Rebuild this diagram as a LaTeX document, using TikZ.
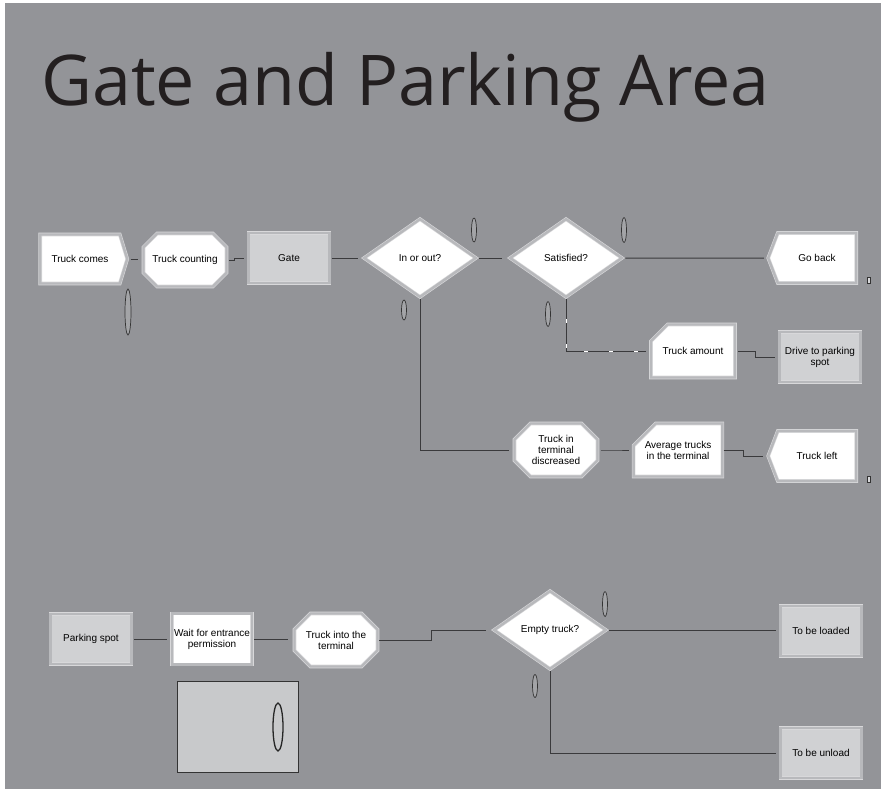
\documentclass[tikz,border=0pt]{standalone}
\usepackage{fontspec}
\setmainfont{Liberation Sans}
\newfontfamily\titlefont{Open Sans}
\usetikzlibrary{shapes.geometric, shapes.misc, shapes.symbols}
\definecolor{bggray}{RGB}{147,148,152}
\definecolor{bevelhi}{RGB}{216,216,218}
\definecolor{bevelband}{RGB}{184,185,188}
\definecolor{modgray}{RGB}{208,209,211}
\definecolor{panelgray}{RGB}{200,201,203}
\definecolor{linedark}{RGB}{58,58,60}
\definecolor{titleink}{RGB}{35,31,32}
\tikzset{
  module/.style={draw=bevelhi, double=bevelband, double distance=2.4pt, line width=0.6pt,
    fill=white, inner sep=1pt, align=center, font=\fontsize{10}{11}\selectfont},
  arrive/.style={module, signal, signal to=east, signal from=nowhere, signal pointer angle=146,
    minimum width=87pt, minimum height=49pt},
  depart/.style={module, signal, signal to=west, signal from=nowhere, signal pointer angle=138,
    minimum width=88pt, minimum height=50pt},
  octa/.style={module, chamfered rectangle, chamfered rectangle xsep=8pt, chamfered rectangle ysep=8pt,
    minimum width=83pt, minimum height=53pt},
  record/.style={module, chamfered rectangle, chamfered rectangle corners=north west,
    chamfered rectangle xsep=12pt, chamfered rectangle ysep=12pt, minimum width=84pt, minimum height=53pt},
  procbox/.style={module, rectangle, fill=modgray, minimum width=81pt, minimum height=50pt},
  holdbox/.style={module, rectangle, minimum width=80pt, minimum height=51pt},
  decide/.style={module, diamond, inner sep=0pt, minimum width=112pt, minimum height=78pt},
  conn/.style={draw=linedark, line width=1pt},
  hilite/.style={draw=white, line width=1pt, dash pattern=on 4pt off 21pt, dash phase=5pt},
  counter/.style={draw=black!80, fill=bggray!85!white, line width=0.7pt},
}
\begin{document}
\begin{tikzpicture}[x=1pt, y=-1pt]
  \useasboundingbox (0,0) rectangle (881,789);
  \fill[white] (0,0) rectangle (881,789);
  \fill[bggray] (5,3) rectangle (881,789);

  \node[anchor=base west, inner sep=0pt, text=titleink, font=\titlefont\fontsize{70}{76}\selectfont]
    (title) at (41,106) {Gate and Parking Area};

  % upper flow
  \node[arrive] (comes) at (80,259) {Truck comes};
  \node[octa] (counting) at (185,260) {Truck counting};
  \node[procbox] (gate) at (289,258) {Gate};
  \node[decide] (inout) at (420,258) {In or out?};
  \node[decide] (satisf) at (566,258) {Satisfied?};
  \node[depart] (goback) at (817,258) {Go back};
  \node[record] (amount) at (693,351) {Truck amount};
  \node[procbox] (drive) at (820,357) {Drive to parking\\spot};
  \node[octa] (decrease) at (556,450) {Truck in\\terminal\\discreased};
  \node[record] (average) at (678,450) {Average trucks\\in the terminal};
  \node[depart] (trkleft) at (817,456) {Truck left};

  % lower flow
  \node[procbox] (parking) at (91,639) {Parking spot};
  \node[holdbox] (wait) at (212,639) {Wait for entrance\\permission};
  \node[octa] (into) at (336,640) {Truck into the\\terminal};
  \node[decide] (empty) at (550,630) {Empty truck?};
  \node[procbox] (loaded) at (821,631) {To be loaded};
  \node[procbox] (unload) at (821,753) {To be unload};

  \draw[conn] ([xshift=3pt]comes.east) -- ([xshift=10pt]comes.east);
  \draw[conn] ([xshift=2pt]counting.east) -- ++(6,0) |- ([xshift=-4pt]gate.west);
  \draw[conn, shorten <=2pt, shorten >=6pt] (gate) -- (inout);
  \draw[conn, shorten <=3pt, shorten >=8pt] (inout) -- (satisf);
  \draw[conn, shorten <=3pt, shorten >=4pt] (satisf) -- (goback);
  \draw[conn] ([yshift=-2pt]satisf.south) |- ([xshift=-5pt]amount.west);
  \draw[hilite] ([yshift=-2pt]satisf.south) |- ([xshift=-5pt]amount.west);
  \draw[conn] ([xshift=3pt]amount.east) -- ++(17,0) |- ([xshift=-4pt]drive.west);
  \draw[conn] ([yshift=-2pt]inout.south) |- ([xshift=-5pt]decrease.west);
  \draw[conn] ([xshift=3pt]decrease.east) -- ++(15,0) |- ([xshift=-4pt]average.west);
  \draw[conn] ([xshift=1pt]average.east) -- ++(20,0) |- ([xshift=-5pt]trkleft.west);

  \draw[conn, shorten <=2pt, shorten >=5pt] (parking) -- (wait);
  \draw[conn] ([xshift=2pt]wait.east) -- ([xshift=-6pt]wait.east -| into.west);
  \draw[conn] ([xshift=1pt]into.east) -- ++(53,0) |- ([xshift=-8pt]empty.west);
  \draw[conn] ([xshift=3pt]empty.east) -- ([xshift=-4pt]empty.east -| loaded.west);
  \draw[conn] ([yshift=-2pt]empty.south) |- ([xshift=-4pt]unload.west);

  % counters and panel
  \draw[counter] (128,312) ellipse [x radius=3pt, y radius=23pt];
  \draw[counter] (474,230) ellipse [x radius=2.5pt, y radius=12pt];
  \draw[counter] (404,310) ellipse [x radius=2.5pt, y radius=10pt];
  \draw[counter] (624,230) ellipse [x radius=2.5pt, y radius=12.5pt];
  \draw[counter] (548,314) ellipse [x radius=2.5pt, y radius=12.5pt];
  \draw[counter] (605,604) ellipse [x radius=2.5pt, y radius=12.5pt];
  \draw[counter] (535,686) ellipse [x radius=2.5pt, y radius=11.5pt];
  \draw[draw=black!80, fill=bevelhi, line width=0.6pt] (867.5,277) rectangle (870.5,283);
  \draw[draw=black!80, fill=bevelhi, line width=0.6pt] (867.5,476) rectangle (870.5,482);
  \draw[draw=black!80, fill=panelgray, line width=1pt] (177,681) rectangle (298,772);
  \draw[draw=black!85, fill=panelgray, line width=1.3pt] (278,727) ellipse [x radius=5pt, y radius=24pt];
\end{tikzpicture}
\end{document}
